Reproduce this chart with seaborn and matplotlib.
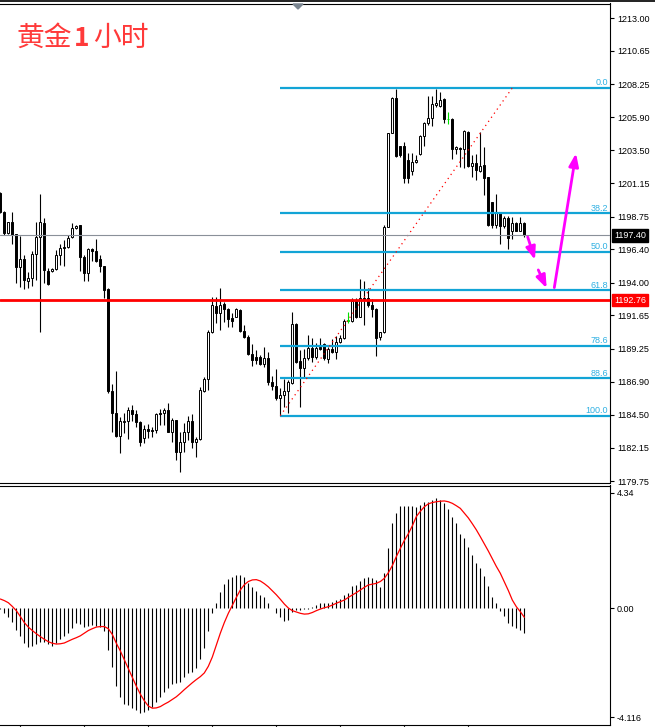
import numpy as np
import matplotlib
matplotlib.use('Agg')
import matplotlib.pyplot as plt
from matplotlib.lines import Line2D
from matplotlib.patches import Polygon
import seaborn as sns

# ---- hourly gold candles ----
opens = [1200.42, 1199.11, 1197.55, 1198.34, 1197.50, 1195.15, 1195.68, 1194.12, 1194.31, 1196.06,
         1197.31, 1198.27, 1194.84, 1194.87, 1194.96, 1195.99, 1196.59, 1196.54, 1197.26, 1197.91,
         1198.15, 1195.87, 1194.72, 1196.40, 1196.28, 1195.68, 1195.20, 1193.52, 1186.24, 1184.62,
         1183.01, 1183.97, 1184.09, 1184.85, 1184.54, 1184.02, 1182.82, 1183.49, 1183.42, 1183.42,
         1184.66, 1184.62, 1184.85, 1183.25, 1184.14, 1181.81, 1182.53, 1183.30, 1184.09, 1182.58,
         1182.75, 1186.24, 1187.08, 1190.44, 1192.35, 1191.80, 1192.47, 1192.09, 1191.49, 1191.56,
         1192.04, 1190.56, 1190.12, 1188.88, 1188.64, 1188.64, 1188.14, 1188.57, 1186.89, 1186.60,
         1185.69, 1185.93, 1186.22, 1186.82, 1191.01, 1188.40, 1187.85, 1188.57, 1189.29, 1188.64,
         1189.41, 1189.57, 1188.50, 1189.21, 1189.05, 1189.77, 1190.01, 1191.25, 1191.25, 1192.69,
         1191.56, 1192.93, 1192.93, 1192.40, 1192.09, 1190.08, 1190.44, 1198.03, 1204.73, 1207.25,
         1203.82, 1203.82, 1202.82, 1202.05, 1202.65, 1203.22, 1204.54, 1205.45, 1205.81, 1206.77,
         1206.70, 1207.17, 1205.74, 1205.74, 1203.58, 1203.65, 1203.58, 1204.85, 1202.38, 1202.62,
         1202.05, 1202.46, 1201.57, 1199.82, 1198.15, 1199.10, 1198.07, 1198.62, 1197.74, 1198.31,
         1197.74, 1198.31]
highs = [1200.54, 1199.15, 1198.39, 1199.11, 1197.50, 1197.36, 1195.99, 1194.79, 1196.28, 1198.39,
         1200.37, 1198.63, 1195.03, 1195.03, 1196.35, 1196.76, 1197.07, 1197.43, 1198.31, 1198.15,
         1198.15, 1195.99, 1196.47, 1196.47, 1197.12, 1195.99, 1195.20, 1193.60, 1186.72, 1187.68,
         1184.33, 1184.62, 1185.09, 1185.21, 1184.85, 1184.09, 1183.78, 1183.85, 1183.66, 1184.62,
         1184.90, 1184.97, 1185.38, 1184.26, 1184.14, 1183.30, 1183.90, 1184.42, 1184.54, 1182.94,
         1186.53, 1187.20, 1190.60, 1193.00, 1193.00, 1193.60, 1192.64, 1192.16, 1191.80, 1192.16,
         1192.09, 1190.96, 1190.24, 1189.57, 1189.17, 1188.81, 1189.41, 1189.05, 1187.30, 1187.78,
         1186.41, 1187.06, 1187.01, 1191.92, 1191.08, 1189.17, 1189.21, 1190.24, 1190.01, 1189.65,
         1190.01, 1189.65, 1189.41, 1189.93, 1190.17, 1190.24, 1191.37, 1191.92, 1192.93, 1192.88,
         1194.24, 1194.12, 1193.65, 1192.81, 1192.16, 1190.48, 1198.15, 1204.78, 1207.32, 1207.95,
         1203.82, 1204.13, 1203.29, 1203.29, 1203.17, 1204.61, 1205.57, 1207.41, 1207.41, 1207.95,
         1207.72, 1207.25, 1206.29, 1205.81, 1203.82, 1203.77, 1204.97, 1204.90, 1203.17, 1203.25,
         1204.85, 1203.73, 1201.62, 1199.82, 1200.35, 1199.10, 1198.79, 1198.79, 1198.74, 1198.39,
         1198.70, 1198.39]
lows = [1198.99, 1197.43, 1197.50, 1196.76, 1194.00, 1193.67, 1193.52, 1193.60, 1193.76, 1194.19,
        1190.48, 1193.96, 1193.84, 1194.79, 1194.91, 1195.27, 1195.20, 1196.47, 1197.19, 1197.86,
        1194.87, 1194.15, 1194.15, 1195.58, 1195.51, 1194.79, 1192.88, 1186.10, 1183.30, 1182.94,
        1181.74, 1183.18, 1182.77, 1184.09, 1183.66, 1182.27, 1182.46, 1182.82, 1182.89, 1183.18,
        1183.78, 1183.78, 1183.25, 1182.58, 1181.26, 1180.42, 1181.86, 1182.70, 1182.10, 1181.45,
        1182.70, 1186.17, 1186.29, 1190.36, 1191.08, 1190.60, 1191.20, 1190.84, 1190.84, 1191.56,
        1190.44, 1190.00, 1188.81, 1188.04, 1188.16, 1188.09, 1187.97, 1186.65, 1186.29, 1185.57,
        1184.45, 1185.10, 1184.66, 1186.72, 1188.26, 1185.10, 1187.13, 1188.45, 1188.33, 1188.50,
        1189.17, 1188.45, 1188.26, 1188.98, 1188.50, 1189.65, 1189.93, 1191.13, 1191.20, 1191.44,
        1191.51, 1190.96, 1192.28, 1191.56, 1188.74, 1189.89, 1190.40, 1197.98, 1204.73, 1203.05,
        1203.05, 1201.19, 1201.19, 1201.74, 1202.58, 1203.17, 1203.82, 1205.33, 1205.26, 1206.65,
        1206.65, 1205.45, 1205.38, 1202.86, 1203.25, 1202.29, 1202.22, 1202.34, 1201.62, 1201.38,
        1201.98, 1200.30, 1198.10, 1197.91, 1197.91, 1196.78, 1197.91, 1196.40, 1197.14, 1197.74,
        1197.71, 1197.31]
closes = [1199.11, 1197.55, 1198.34, 1197.43, 1195.15, 1195.68, 1194.19, 1194.31, 1196.06, 1197.26,
          1198.34, 1194.91, 1193.91, 1194.99, 1195.97, 1196.47, 1196.47, 1197.19, 1197.91, 1198.10,
          1195.87, 1194.72, 1196.42, 1196.28, 1195.56, 1195.20, 1193.48, 1186.24, 1184.62, 1183.01,
          1184.09, 1184.09, 1184.85, 1184.54, 1184.02, 1182.53, 1183.49, 1183.37, 1183.35, 1184.54,
          1184.57, 1184.85, 1183.25, 1184.14, 1181.81, 1182.53, 1183.30, 1184.09, 1182.58, 1182.75,
          1186.29, 1187.08, 1190.44, 1192.40, 1191.80, 1192.40, 1192.09, 1191.39, 1191.25, 1192.09,
          1190.56, 1190.12, 1188.86, 1188.45, 1188.45, 1188.14, 1188.57, 1186.89, 1186.60, 1185.69,
          1185.93, 1186.22, 1186.89, 1191.01, 1188.33, 1187.85, 1188.57, 1189.29, 1188.69, 1189.29,
          1189.26, 1188.57, 1189.21, 1189.05, 1189.77, 1190.01, 1191.25, 1191.25, 1192.69, 1191.56,
          1192.93, 1192.83, 1192.40, 1192.09, 1190.01, 1190.44, 1198.03, 1204.73, 1207.29, 1203.10,
          1203.17, 1201.50, 1201.50, 1202.70, 1202.82, 1204.54, 1205.45, 1205.81, 1206.81, 1206.89,
          1207.13, 1205.74, 1205.74, 1203.58, 1203.73, 1203.58, 1204.90, 1202.38, 1202.62, 1202.10,
          1202.38, 1201.50, 1198.15, 1198.15, 1199.10, 1198.07, 1198.62, 1197.19, 1198.26, 1197.74,
          1198.26, 1197.40]

# ---- MACD panel ----
macd_hist = [-0.03, -0.18, -0.33, -0.52, -0.83, -1.04, -1.31, -1.48, -1.43, -1.36,
             -1.30, -1.27, -1.37, -1.42, -1.33, -1.18, -1.06, -0.93, -0.74, -0.58,
             -0.62, -0.70, -0.67, -0.64, -0.67, -0.70, -0.86, -1.58, -2.21, -2.94,
             -3.35, -3.62, -3.66, -3.79, -3.85, -3.95, -3.91, -3.85, -3.72, -3.53,
             -3.35, -3.17, -3.03, -2.87, -2.84, -2.79, -2.62, -2.47, -2.40, -2.28,
             -1.92, -1.50, -0.86, -0.20, 0.20, 0.62, 0.91, 1.08, 1.16, 1.25,
             1.25, 1.16, 0.93, 0.81, 0.64, 0.49, 0.40, 0.18, 0.00, -0.20,
             -0.35, -0.48, -0.45, -0.14, -0.08, -0.08, -0.05, -0.05, 0.05, 0.13,
             0.20, 0.18, 0.20, 0.23, 0.30, 0.35, 0.49, 0.58, 0.83, 0.86,
             1.02, 1.12, 1.16, 1.12, 1.06, 0.78, 1.31, 2.25, 3.22, 3.57,
             3.85, 3.85, 3.85, 3.85, 3.82, 3.89, 3.99, 4.01, 4.08, 4.14,
             4.08, 3.95, 3.72, 3.42, 3.19, 2.79, 2.63, 2.31, 2.00, 1.69,
             1.50, 1.21, 0.83, 0.43, 0.18, -0.10, -0.30, -0.55, -0.68, -0.77,
             -0.83, -0.93]
macd_signal = [0.34, 0.28, 0.20, 0.06, -0.10, -0.32, -0.55, -0.72, -0.85, -0.97,
               -1.08, -1.18, -1.27, -1.33, -1.36, -1.35, -1.32, -1.25, -1.18, -1.12,
               -1.05, -0.95, -0.85, -0.78, -0.72, -0.70, -0.70, -0.78, -1.00, -1.33,
               -1.62, -1.95, -2.28, -2.60, -2.95, -3.25, -3.50, -3.70, -3.78, -3.77,
               -3.72, -3.63, -3.55, -3.45, -3.35, -3.22, -3.08, -2.95, -2.82, -2.70,
               -2.59, -2.45, -2.20, -1.85, -1.40, -0.95, -0.55, -0.20, 0.10, 0.40,
               0.68, 0.88, 1.00, 1.06, 1.07, 1.02, 0.92, 0.80, 0.65, 0.50,
               0.33, 0.15, 0.00, -0.10, -0.15, -0.20, -0.23, -0.22, -0.17, -0.10,
               -0.04, 0.01, 0.05, 0.11, 0.18, 0.24, 0.30, 0.40, 0.49, 0.58,
               0.68, 0.78, 0.87, 0.90, 0.93, 1.00, 1.12, 1.33, 1.60, 1.94,
               2.25, 2.55, 2.80, 3.10, 3.45, 3.65, 3.82, 3.93, 3.98, 4.01,
               4.03, 4.04, 4.01, 3.95, 3.86, 3.76, 3.58, 3.40, 3.18, 2.95,
               2.69, 2.42, 2.15, 1.86, 1.57, 1.31, 0.98, 0.66, 0.30, 0.05,
               -0.14, -0.35]

# ---- axis labels ----
price_ticks = [1213.00, 1210.65, 1208.25, 1205.90, 1203.50, 1201.15, 1198.75, 1196.40,
               1194.00, 1191.65, 1189.25, 1186.90, 1184.50, 1182.15, 1179.75]
macd_ticks = [4.34, 0.0, -4.116]
macd_tick_labels = ['4.34', '0.00', '-4.116']
time_tick_bars = [5, 21, 37, 53, 69, 85, 101, 117]

# ---- drawn objects ----
current_price = 1197.40
support_price = 1192.76
fib_high = 1208.0
fib_low = 1184.45
fib_levels = [0.0, 38.2, 50.0, 61.8, 78.6, 88.6, 100.0]
fib_start_bar = 69.9
trend_bars = [70, 128]
# magenta arrows: (start bar, start price) -> (tip bar, tip price)
arrow_starts = [(131.84, 1197.29), (134.49, 1194.92), (138.49, 1193.65)]
arrow_tips = [(133.67, 1195.64), (136.59, 1193.60), (143.92, 1203.30)]

W, H = 655, 727


def fx(px):
    return px / W


def fy(py):
    return 1 - py / H


sns.set_theme(style='white')
plt.rcParams['font.family'] = ['Liberation Sans', 'DejaVu Sans']

fig = plt.figure(figsize=(W / 100, H / 100), dpi=100)
fig.patch.set_facecolor('white')

ax = fig.add_axes([0, fy(482.5), fx(610), 479 / H])
ax2 = fig.add_axes([0, fy(724.5), fx(610), 239 / H])

o = np.array(opens)
h = np.array(highs)
l = np.array(lows)
c = np.array(closes)
idx = np.arange(len(o))

green = '#00e000'
flat = np.isclose(o, c)
wick_col = np.where(flat, green, 'black')
face = np.where(flat, green, np.where(c > o, 'white', 'black'))
edge = np.where(flat, green, 'black')

# candles
ax.vlines(idx, l, h, colors=wick_col, lw=0.8, zorder=2)
ax.bar(idx, np.maximum(np.abs(c - o), 0.04), bottom=np.minimum(o, c), width=0.55,
       color=face, edgecolor=edge, linewidth=0.7, zorder=3)

xmax = (610 - 0.33) / 4
ax.set_xlim(-0.08, xmax)
ax.set_ylim(1179.65, 1214.06)

# fibonacci retracement
fib_line = '#12a4d6'
fib_text = '#2fb0e2'
for lv in fib_levels:
    p = fib_high - (fib_high - fib_low) * lv / 100
    ax.hlines(p, fib_start_bar, xmax, color=fib_line, lw=1.6, zorder=4)
    ax.annotate(f'{lv:.1f}', xy=(1, p), xycoords=('axes fraction', 'data'),
                xytext=(-1.5, 0.3), textcoords='offset points', ha='right', va='bottom',
                fontsize=6.5, color=fib_text, zorder=6)
ax.plot(trend_bars, [fib_low, fib_high], color='red', lw=0.9, ls=(0, (1, 3)), zorder=4)

# price lines
ax.axhline(current_price, color='#8a9099', lw=0.8, zorder=4)
ax.axhline(support_price, color='red', lw=2.0, zorder=5)

# arrows
for s, t in zip(arrow_starts, arrow_tips):
    ax.annotate('', xy=t, xytext=s,
                arrowprops=dict(arrowstyle='-|>,head_length=0.85,head_width=0.32',
                                color='#ff00ff', lw=2.0, shrinkA=0, shrinkB=0,
                                mutation_scale=9), zorder=7)

ax.yaxis.tick_right()
ax.set_yticks(price_ticks)
ax.set_yticklabels([f'{t:.2f}' for t in price_ticks])
ax.tick_params(axis='y', right=True, left=False, direction='out', length=3, width=0.8,
               pad=2, labelsize=6.5, colors='black')
ax.set_xticks([])
for side in ['top', 'right', 'bottom']:
    ax.spines[side].set_visible(True)
    ax.spines[side].set_color('black')
    ax.spines[side].set_linewidth(0.8)
ax.spines['left'].set_visible(False)

for val, bg in [(current_price, 'black'), (support_price, 'red')]:
    ax.annotate(f'{val:.2f}', xy=(1, val), xycoords=('axes fraction', 'data'),
                xytext=(3, 0), textcoords='offset points', ha='left', va='center',
                fontsize=6.5, color='white', annotation_clip=False, zorder=10,
                bbox=dict(boxstyle='square,pad=0.22', fc=bg, ec=bg))

# MACD
ax2.vlines(idx, 0, macd_hist, colors='black', lw=0.8)
sns.lineplot(x=idx, y=macd_signal, ax=ax2, color='red', lw=0.9)
ax2.set_xlim(-0.08, xmax)
ax2.set_ylim(-4.396, 4.623)
ax2.yaxis.tick_right()
ax2.set_yticks(macd_ticks)
ax2.set_yticklabels(macd_tick_labels)
ax2.tick_params(axis='y', right=True, left=False, direction='out', length=3, width=0.8,
                pad=2, labelsize=6.5, colors='black')
ax2.set_xticks(time_tick_bars)
ax2.tick_params(axis='x', bottom=True, direction='out', length=3, width=0.8,
                labelbottom=False)
for side in ['top', 'right', 'bottom']:
    ax2.spines[side].set_visible(True)
    ax2.spines[side].set_color('black')
    ax2.spines[side].set_linewidth(0.8)
ax2.spines['left'].set_visible(False)
ax2.set_xlabel('')
ax2.set_ylabel('')

# window frame bits
fig.add_artist(Line2D([0, 1], [fy(1), fy(1)], color='#202020', lw=1.4))
fig.add_artist(Polygon([(fx(293), fy(4)), (fx(303), fy(4)), (fx(298), fy(9))],
                       closed=True, color='#7a8590', transform=fig.transFigure))

# title
title_red = '#ff3a3a'
cjk = ['Noto Sans CJK SC', 'DejaVu Sans']
fig.text(fx(17), fy(38), '黄金', fontsize=20, color=title_red, family=cjk, va='center', ha='left')
fig.text(fx(74), fy(38), '1', fontsize=19, color=title_red, family=cjk, fontweight='bold',
         va='center', ha='left')
fig.text(fx(93), fy(38), '小时', fontsize=20, color=title_red, family=cjk, va='center', ha='left')

fig.savefig('out.png', dpi=100)
